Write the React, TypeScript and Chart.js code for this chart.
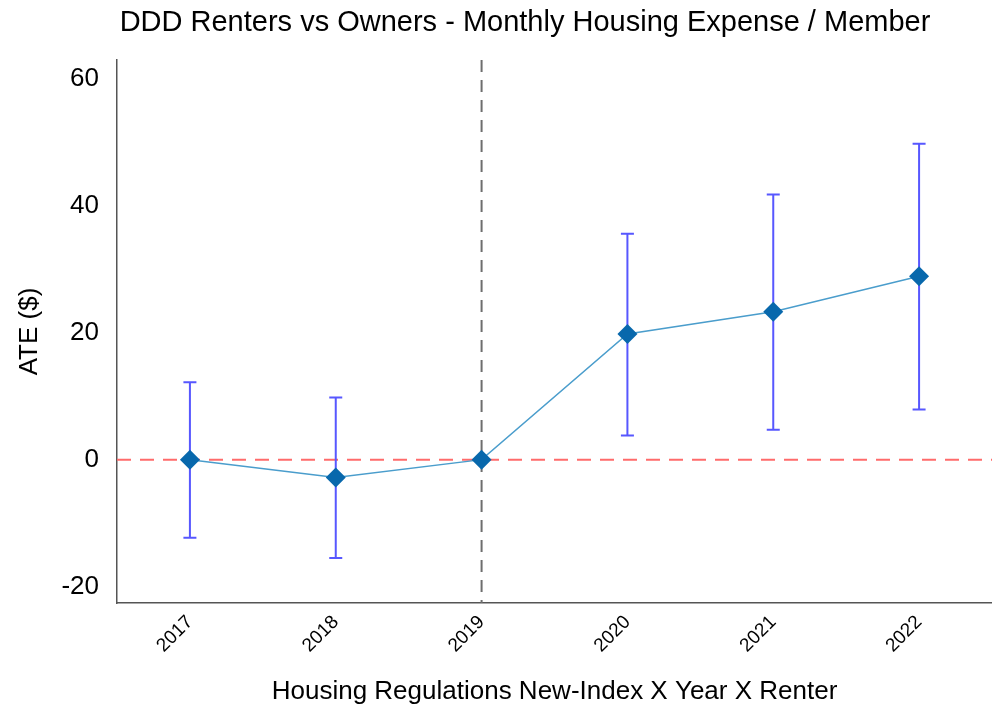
import React, { useEffect, useRef } from "react";
import { Chart, registerables } from "chart.js";

Chart.register(...registerables);

const titleText = "DDD Renters vs Owners - Monthly Housing Expense / Member";
const xTitle = "Housing Regulations New-Index X Year X Renter";
const yTitle = "ATE ($)";
const categories = ["2017", "2018", "2019", "2020", "2021", "2022"];
const estimates = [0, -2.8, 0, 19.8, 23.3, 28.9];
const lowerCI: (number | null)[] = [-12.3, -15.5, null, 3.8, 4.7, 7.9];
const upperCI: (number | null)[] = [12.2, 9.8, null, 35.6, 41.8, 49.8];
const yTicks = [-20, 0, 20, 40, 60];
const yMin = -22.6;
const yMax = 63;
const referenceCategory = "2019";
const zeroLine = 0;

const FONT = "'Liberation Sans', Arial, Helvetica, sans-serif";

const overlayPlugin = {
  id: "overlay",
  beforeDatasetsDraw(chart: any) {
    const { ctx, chartArea, scales } = chart;
    const x = scales.x;
    const y = scales.y;
    ctx.save();
    const y0 = y.getPixelForValue(zeroLine);
    ctx.strokeStyle = "#ff6b6b";
    ctx.lineWidth = 2;
    ctx.setLineDash([14, 9]);
    ctx.beginPath();
    ctx.moveTo(chartArea.left, y0);
    ctx.lineTo(chartArea.right, y0);
    ctx.stroke();
    const xr = x.getPixelForValue(categories.indexOf(referenceCategory));
    ctx.strokeStyle = "#6e6e6e";
    ctx.setLineDash([12, 8]);
    ctx.beginPath();
    ctx.moveTo(xr, chartArea.top);
    ctx.lineTo(xr, chartArea.bottom);
    ctx.stroke();
    ctx.setLineDash([]);
    ctx.strokeStyle = "#5757ff";
    ctx.lineWidth = 2;
    const cap = 6.5;
    categories.forEach((c, i) => {
      const lo = lowerCI[i];
      const hi = upperCI[i];
      if (lo == null || hi == null) return;
      const px = x.getPixelForValue(i);
      const pl = y.getPixelForValue(lo);
      const ph = y.getPixelForValue(hi);
      ctx.beginPath();
      ctx.moveTo(px, pl);
      ctx.lineTo(px, ph);
      ctx.moveTo(px - cap, pl);
      ctx.lineTo(px + cap, pl);
      ctx.moveTo(px - cap, ph);
      ctx.lineTo(px + cap, ph);
      ctx.stroke();
    });
    ctx.restore();
  },
  afterDraw(chart: any) {
    const { ctx } = chart;
    ctx.save();
    ctx.fillStyle = "#000";
    ctx.font = `29px ${FONT}`;
    ctx.textAlign = "center";
    ctx.textBaseline = "alphabetic";
    ctx.fillText(titleText, 525, 31);
    ctx.restore();
  },
};

export default function App() {
  const ref = useRef<HTMLCanvasElement>(null);
  useEffect(() => {
    document.body.style.margin = "0";
    const chart = new Chart(ref.current!, {
      type: "line",
      data: {
        labels: categories,
        datasets: [
          {
            data: estimates,
            borderColor: "#4a9dcc",
            borderWidth: 1.5,
            pointStyle: "rectRot",
            pointRadius: 10,
            pointBackgroundColor: "#0868ac",
            pointBorderColor: "#0868ac",
            pointBorderWidth: 0,
            tension: 0,
          },
        ],
      },
      options: {
        responsive: false,
        animation: false,
        devicePixelRatio: 1,
        layout: { autoPadding: false, padding: { top: 60, right: 0, left: 0, bottom: 0 } },
        plugins: {
          legend: { display: false },
          tooltip: { enabled: false },
          title: { display: false },
        },
        scales: {
          x: {
            offset: true,
            grid: { display: false },
            border: { display: true, color: "#555", width: 1.5 },
            ticks: {
              color: "#000",
              font: { family: FONT, size: 19 },
              minRotation: 45,
              maxRotation: 45,
              padding: 0,
            },
            title: {
              display: true,
              text: xTitle,
              color: "#000",
              font: { family: FONT, size: 26 },
              padding: { top: 0, bottom: 2 },
            },
            afterFit(scale: any) {
              scale.height = 106;
              scale.paddingRight = 0;
              scale.paddingLeft = 0;
            },
          },
          y: {
            min: yMin,
            max: yMax,
            grid: { display: false },
            border: { display: true, color: "#555", width: 1.5 },
            afterBuildTicks(scale: any) {
              scale.ticks = yTicks.map((v) => ({ value: v }));
            },
            ticks: {
              color: "#000",
              font: { family: FONT, size: 26 },
              padding: 10,
            },
            title: {
              display: true,
              text: yTitle,
              color: "#000",
              font: { family: FONT, size: 26 },
              padding: { top: 14, bottom: 0 },
            },
            afterFit(scale: any) {
              scale.width = 117;
            },
          },
        },
      },
      plugins: [overlayPlugin],
    });
    return () => chart.destroy();
  }, []);
  return <canvas ref={ref} width={992} height={709} />;
}
